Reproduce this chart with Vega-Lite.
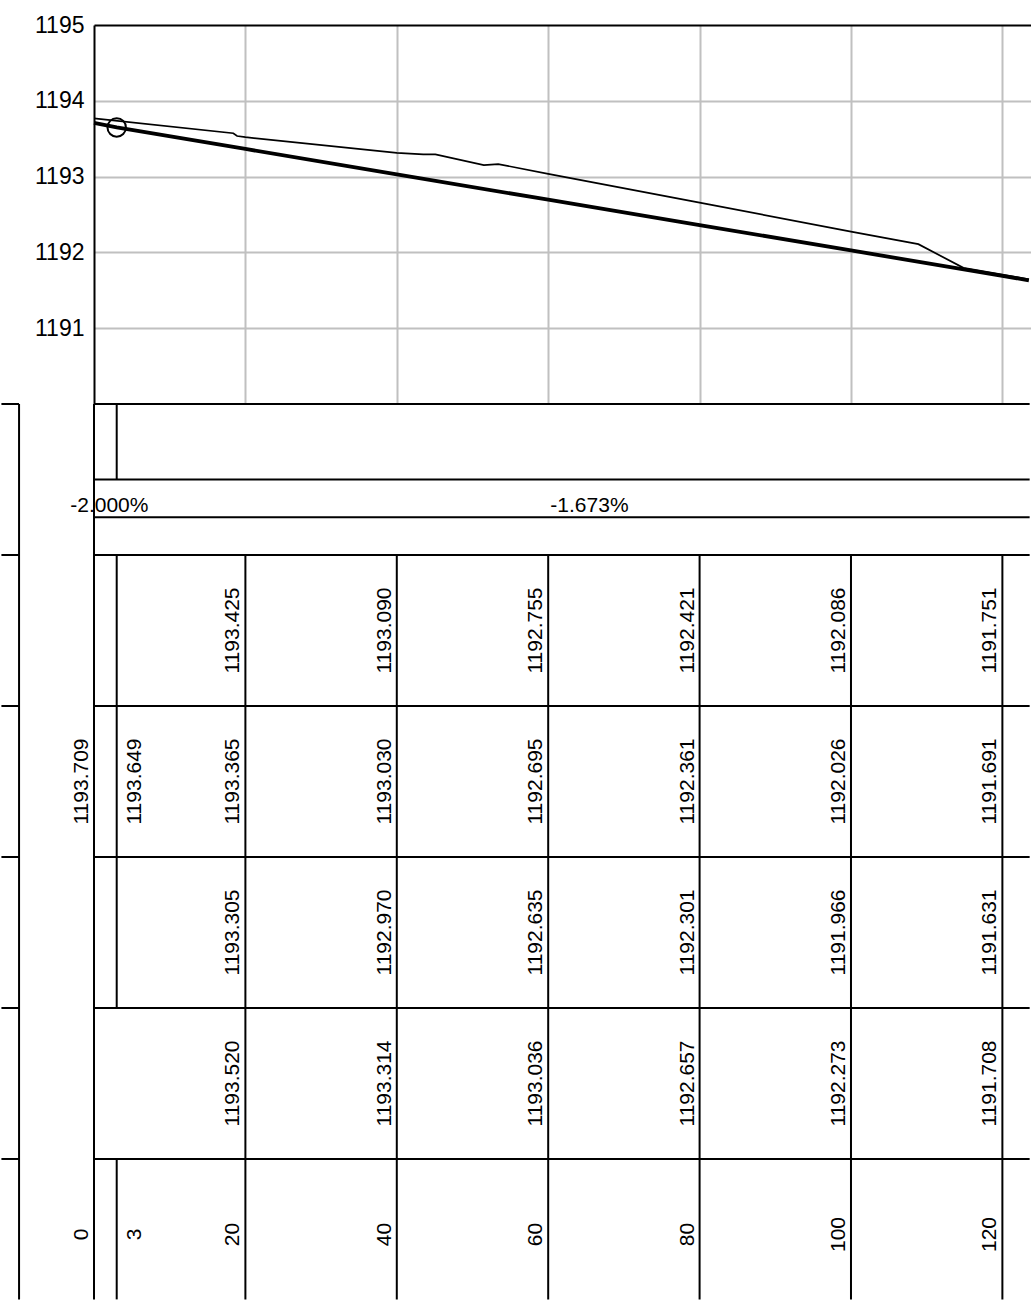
{
  "$schema": "https://vega.github.io/schema/vega-lite/v6.json",
  "padding": {"left": 0, "top": 14, "right": 0, "bottom": 0},
  "spacing": 0,
  "bounds": "flush",
  "resolve": {"scale": {"x": "independent", "y": "independent"}},
  "config": {
    "font": "Liberation Sans",
    "view": {"stroke": null},
    "text": {"font": "Liberation Sans", "fontSize": 21, "color": "black"}
  },
  "datasets": {
    "design": [
      {"s": 0, "e": 1193.709}, {"s": 3, "e": 1193.649}, {"s": 20, "e": 1193.365},
      {"s": 40, "e": 1193.030}, {"s": 60, "e": 1192.695}, {"s": 80, "e": 1192.361},
      {"s": 100, "e": 1192.026}, {"s": 120, "e": 1191.691}, {"s": 123.5, "e": 1191.632}
    ],
    "ground": [
      {"s": 0, "e": 1193.768}, {"s": 18.4, "e": 1193.572}, {"s": 18.9, "e": 1193.535},
      {"s": 20, "e": 1193.520}, {"s": 40, "e": 1193.314}, {"s": 43.5, "e": 1193.293},
      {"s": 45.1, "e": 1193.293}, {"s": 51.5, "e": 1193.152}, {"s": 53.4, "e": 1193.165},
      {"s": 60, "e": 1193.036}, {"s": 80, "e": 1192.657}, {"s": 100, "e": 1192.273},
      {"s": 108.9, "e": 1192.109}, {"s": 114.85, "e": 1191.796}, {"s": 120, "e": 1191.708},
      {"s": 123.5, "e": 1191.645}
    ],
    "changes": [{"s": 3, "e": 1193.649}],
    "hlines": [
      {"x1": 0, "x2": 123.6, "r": 0}, {"x1": 0, "x2": 123.6, "r": 1},
      {"x1": 0, "x2": 123.6, "r": 1.5}, {"x1": 0, "x2": 123.6, "r": 2},
      {"x1": 0, "x2": 123.6, "r": 4}, {"x1": 0, "x2": 123.6, "r": 6},
      {"x1": 0, "x2": 123.6, "r": 8}, {"x1": 0, "x2": 123.6, "r": 10},
      {"x1": -12.23, "x2": -9.9, "r": 0}, {"x1": -12.23, "x2": -9.9, "r": 2},
      {"x1": -12.23, "x2": -9.9, "r": 4}, {"x1": -12.23, "x2": -9.9, "r": 6},
      {"x1": -12.23, "x2": -9.9, "r": 8}, {"x1": -12.23, "x2": -9.9, "r": 10}
    ],
    "vlines": [
      {"s": -9.9, "r1": 0, "r2": 11.86}, {"s": 0, "r1": 0, "r2": 11.86},
      {"s": 3, "r1": 0, "r2": 1}, {"s": 3, "r1": 2, "r2": 8}, {"s": 3, "r1": 10, "r2": 11.86},
      {"s": 20, "r1": 2, "r2": 11.86}, {"s": 40, "r1": 2, "r2": 11.86},
      {"s": 60, "r1": 2, "r2": 11.86}, {"s": 80, "r1": 2, "r2": 11.86},
      {"s": 100, "r1": 2, "r2": 11.86}, {"s": 120, "r1": 2, "r2": 11.86}
    ],
    "grades": [{"s": 2.03, "t": "-2.000%"}, {"s": 65.45, "t": "-1.673%"}],
    "cells": [
      {"s": 20, "r": 3, "t": "1193.425"}, {"s": 40, "r": 3, "t": "1193.090"},
      {"s": 60, "r": 3, "t": "1192.755"}, {"s": 80, "r": 3, "t": "1192.421"},
      {"s": 100, "r": 3, "t": "1192.086"}, {"s": 120, "r": 3, "t": "1191.751"},
      {"s": 0, "r": 5, "t": "1193.709"}, {"s": 3, "r": 5, "t": "1193.649"},
      {"s": 20, "r": 5, "t": "1193.365"}, {"s": 40, "r": 5, "t": "1193.030"},
      {"s": 60, "r": 5, "t": "1192.695"}, {"s": 80, "r": 5, "t": "1192.361"},
      {"s": 100, "r": 5, "t": "1192.026"}, {"s": 120, "r": 5, "t": "1191.691"},
      {"s": 20, "r": 7, "t": "1193.305"}, {"s": 40, "r": 7, "t": "1192.970"},
      {"s": 60, "r": 7, "t": "1192.635"}, {"s": 80, "r": 7, "t": "1192.301"},
      {"s": 100, "r": 7, "t": "1191.966"}, {"s": 120, "r": 7, "t": "1191.631"},
      {"s": 20, "r": 9, "t": "1193.520"}, {"s": 40, "r": 9, "t": "1193.314"},
      {"s": 60, "r": 9, "t": "1193.036"}, {"s": 80, "r": 9, "t": "1192.657"},
      {"s": 100, "r": 9, "t": "1192.273"}, {"s": 120, "r": 9, "t": "1191.708"},
      {"s": 0, "r": 11, "t": "0"}, {"s": 3, "r": 11, "t": "3"},
      {"s": 20, "r": 11, "t": "20"}, {"s": 40, "r": 11, "t": "40"},
      {"s": 60, "r": 11, "t": "60"}, {"s": 80, "r": 11, "t": "80"},
      {"s": 100, "r": 11, "t": "100"}, {"s": 120, "r": 11, "t": "120"}
    ]
  },
  "vconcat": [
    {
      "width": 937,
      "height": 379,
      "layer": [
        {
          "data": {"name": "ground"},
          "mark": {"type": "line", "color": "black", "strokeWidth": 1.7},
          "encoding": {
            "x": {
              "field": "s", "type": "quantitative",
              "scale": {"domain": [0, 123.78], "nice": false, "zero": false},
              "axis": {
                "orient": "top", "values": [20, 40, 60, 80, 100, 120], "grid": true,
                "gridColor": "#c0c0c0", "gridWidth": 2, "labels": false, "ticks": false,
                "domain": true, "domainColor": "black", "domainWidth": 2, "title": null
              }
            },
            "y": {
              "field": "e", "type": "quantitative",
              "scale": {"domain": [1190, 1195], "nice": false, "zero": false},
              "axis": {
                "values": [1191, 1192, 1193, 1194, 1195], "format": "d", "grid": true,
                "gridColor": "#c0c0c0", "gridWidth": 2,
                "gridOpacity": {"condition": {"test": "datum.value >= 1195", "value": 0}, "value": 1},
                "ticks": false, "domain": true, "domainColor": "black", "domainWidth": 2,
                "title": null, "labelFont": "Liberation Sans", "labelFontSize": 23,
                "labelColor": "black", "labelPadding": 10
              }
            }
          }
        },
        {
          "data": {"name": "design"},
          "mark": {"type": "line", "color": "black", "strokeWidth": 3.8},
          "encoding": {
            "x": {"field": "s", "type": "quantitative"},
            "y": {"field": "e", "type": "quantitative"}
          }
        },
        {
          "data": {"name": "changes"},
          "mark": {"type": "point", "shape": "circle", "filled": false, "size": 340, "stroke": "black", "strokeWidth": 2, "opacity": 1},
          "encoding": {
            "x": {"field": "s", "type": "quantitative"},
            "y": {"field": "e", "type": "quantitative"}
          }
        }
      ]
    },
    {
      "width": 937,
      "height": 896,
      "layer": [
        {
          "data": {"name": "hlines"},
          "mark": {"type": "rule", "color": "black", "strokeWidth": 2},
          "encoding": {
            "x": {"field": "x1", "type": "quantitative", "scale": {"domain": [0, 123.78], "nice": false, "zero": false}, "axis": null},
            "x2": {"field": "x2"},
            "y": {"field": "r", "type": "quantitative", "scale": {"domain": [0, 11.868], "reverse": true, "nice": false, "zero": false}, "axis": null}
          }
        },
        {
          "data": {"name": "vlines"},
          "mark": {"type": "rule", "color": "black", "strokeWidth": 2},
          "encoding": {
            "x": {"field": "s", "type": "quantitative"},
            "y": {"field": "r1", "type": "quantitative"},
            "y2": {"field": "r2"}
          }
        },
        {
          "data": {"name": "grades"},
          "mark": {"type": "text", "align": "center", "baseline": "alphabetic", "dy": -5, "fontSize": 21},
          "encoding": {
            "x": {"field": "s", "type": "quantitative"},
            "y": {"datum": 1.5, "type": "quantitative"},
            "text": {"field": "t"}
          }
        },
        {
          "data": {"name": "cells"},
          "transform": [{"filter": "datum.s != 3"}],
          "mark": {"type": "text", "angle": 270, "align": "center", "baseline": "alphabetic", "dy": -6, "fontSize": 21},
          "encoding": {
            "x": {"field": "s", "type": "quantitative"},
            "y": {"field": "r", "type": "quantitative"},
            "text": {"field": "t"}
          }
        },
        {
          "data": {"name": "cells"},
          "transform": [{"filter": "datum.s == 3"}],
          "mark": {"type": "text", "angle": 270, "align": "center", "baseline": "alphabetic", "dy": 24, "fontSize": 21},
          "encoding": {
            "x": {"field": "s", "type": "quantitative"},
            "y": {"field": "r", "type": "quantitative"},
            "text": {"field": "t"}
          }
        }
      ]
    }
  ]
}
